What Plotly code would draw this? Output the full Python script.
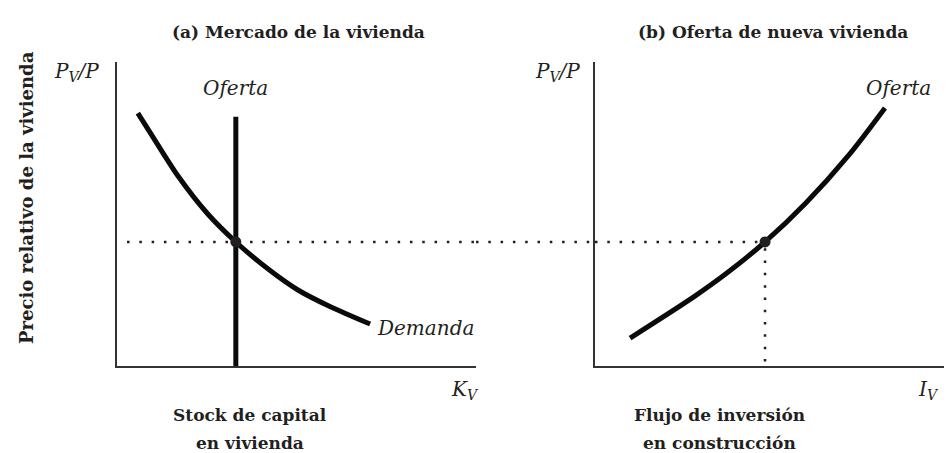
import plotly.graph_objects as go

# panel (a): housing market, data units 0-10 on both axes
demand_x = [0.58, 0.95, 1.70, 2.53, 3.31, 4.21, 5.04, 5.96, 7.05]
demand_y = [8.32, 7.63, 6.25, 5.00, 4.08, 3.19, 2.50, 1.94, 1.38]
stock_supply_x = [3.31, 3.31]
stock_supply_y = [0.0, 8.2]
equilibrium_a = (3.31, 4.08)

# panel (b): supply of new housing
new_supply_x = [0.98, 2.79, 3.72, 4.75, 5.89, 7.07, 8.10]
new_supply_y = [0.92, 2.30, 3.09, 4.08, 5.36, 6.91, 8.49]
equilibrium_b = (4.75, 4.08)

INK = '#231f20'
FONT = 'DejaVu Serif'

dom_a = [109 / 952, 468 / 952]
dom_b = [587 / 952, 945 / 952]
dom_y = [95 / 453, 399 / 453]

fig = go.Figure()

curve = dict(color='#0a0a0a', width=5)
dots = dict(color=INK, width=2.5, dash='2.5px,9.8px')

fig.add_trace(go.Scatter(x=demand_x, y=demand_y, mode='lines', line=dict(curve, shape='spline', smoothing=0.8),
                         xaxis='x', yaxis='y'))
fig.add_trace(go.Scatter(x=stock_supply_x, y=stock_supply_y, mode='lines', line=curve, xaxis='x', yaxis='y'))
# dotted price level across panel (a)
fig.add_trace(go.Scatter(x=[0.28, 10], y=[equilibrium_a[1]] * 2, mode='lines', line=dots, xaxis='x', yaxis='y'))
fig.add_trace(go.Scatter(x=[equilibrium_a[0]], y=[equilibrium_a[1]], mode='markers',
                         marker=dict(color=INK, size=11), xaxis='x', yaxis='y'))

fig.add_trace(go.Scatter(x=new_supply_x, y=new_supply_y, mode='lines', line=dict(curve, shape='spline', smoothing=0.8),
                         xaxis='x2', yaxis='y2'))
fig.add_trace(go.Scatter(x=[0, equilibrium_b[0]], y=[equilibrium_b[1]] * 2, mode='lines', line=dots,
                         xaxis='x2', yaxis='y2'))
fig.add_trace(go.Scatter(x=[equilibrium_b[0]] * 2, y=[0.15, equilibrium_b[1]], mode='lines', line=dots,
                         xaxis='x2', yaxis='y2'))
fig.add_trace(go.Scatter(x=[equilibrium_b[0]], y=[equilibrium_b[1]], mode='markers',
                         marker=dict(color=INK, size=11), xaxis='x2', yaxis='y2'))

# dotted line bridging the gap between the two panels
fig.add_shape(type='line', xref='paper', yref='y', x0=dom_a[1], x1=dom_b[0],
              y0=equilibrium_a[1], y1=equilibrium_a[1], line=dots)

axis_style = dict(range=[0, 10], showgrid=False, zeroline=False, showticklabels=False, ticks='',
                  showline=True, linecolor='#333333', linewidth=1.5, fixedrange=True)

fig.update_layout(
    width=952, height=453,
    margin=dict(l=0, r=0, t=0, b=0),
    paper_bgcolor='white', plot_bgcolor='white',
    showlegend=False,
    font=dict(family=FONT, color=INK),
    xaxis=dict(axis_style, domain=dom_a, anchor='y'),
    yaxis=dict(axis_style, domain=dom_y, anchor='x'),
    xaxis2=dict(axis_style, domain=dom_b, anchor='y2'),
    yaxis2=dict(axis_style, domain=dom_y, anchor='x2'),
)

def label(text, x, y, size=20, xref='paper', yref='paper', xanchor='center', angle=0):
    fig.add_annotation(text=text, x=x, y=y, xref=xref, yref=yref, xanchor=xanchor, yanchor='middle',
                       showarrow=False, textangle=angle, font=dict(family=FONT, size=size, color=INK))

def py(p):
    return 1 - p / 453

label('<b>(a) Mercado de la vivienda</b>', 290 / 952, py(24), size=17)
label('<b>(b) Oferta de nueva vivienda</b>', 765 / 952, py(24), size=17)
label('<b>Precio relativo de la vivienda</b>', 19 / 952, py(190), size=18, angle=-90)

pv = '<i>P</i><sub><i>V</i></sub><i>/P</i>'
label(pv, 93 / 952, py(64), size=20, xanchor='right')
label(pv, 574 / 952, py(64), size=20, xanchor='right')

label('<i>Oferta</i>', 3.31, 9.15, size=20, xref='x', yref='y')
label('<i>Demanda</i>', 7.19, 1.25, size=20, xref='x', yref='y', xanchor='left')
label('<i>Oferta</i>', 8.49, 9.15, size=20, xref='x2', yref='y2')

label('<i>K</i><sub><i>V</i></sub>', 473 / 952, py(382), size=20, xanchor='right')
label('<i>I</i><sub><i>V</i></sub>', 933 / 952, py(382), size=20, xanchor='right')

label('<b>Stock de capital</b>', 242 / 952, py(407), size=17)
label('<b>en vivienda</b>', 242 / 952, py(435), size=17)
label('<b>Flujo de inversión</b>', 711 / 952, py(407), size=17)
label('<b>en construcción</b>', 711 / 952, py(435), size=17)

fig.write_html('out.html')
